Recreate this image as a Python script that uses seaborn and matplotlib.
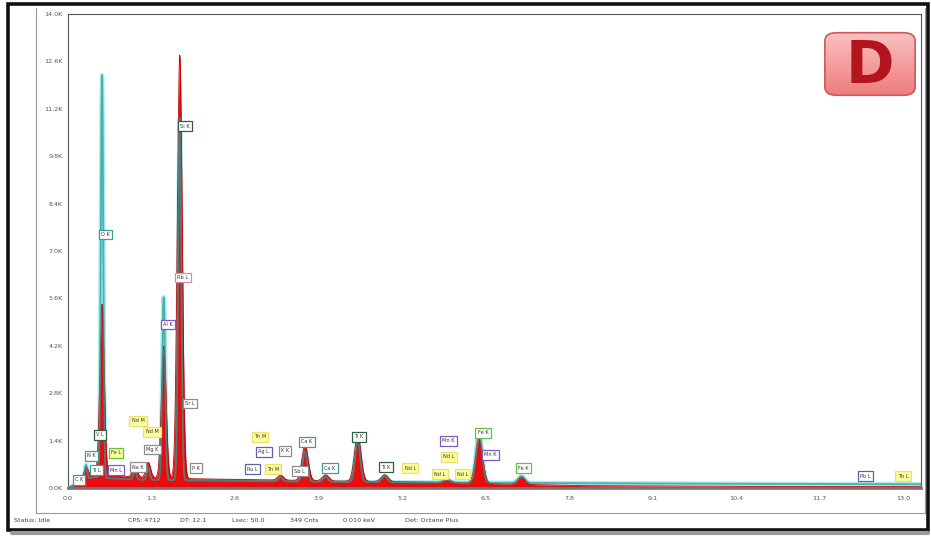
import numpy as np
import pandas as pd
import matplotlib
matplotlib.use("Agg")
import matplotlib.pyplot as plt
import seaborn as sns
from matplotlib.patches import FancyBboxPatch, Rectangle
from matplotlib.lines import Line2D
from matplotlib.ticker import FuncFormatter, FixedLocator

sns.set_theme(style="white")
plt.rcParams['font.family'] = ['DejaVu Sans']

# ---- spectrum peak table (energy keV, widths keV, counts per spectrum) ----
peak_lines = ["C K", "O K", "Na K", "Mg K", "Al K", "Si K", "K K", "Ca K", "Ca Kb",
              "Ti K", "Ti Kb", "Mn K", "Fe K", "Fe Kb"]
peak_kev = [0.28, 0.53, 1.04, 1.25, 1.49, 1.74, 3.31, 3.69, 4.01, 4.51, 4.93, 5.90, 6.40, 7.06]
red_sigma = [0.030, 0.034, 0.036, 0.036, 0.037, 0.038, 0.046, 0.048, 0.050, 0.051, 0.053,
             0.056, 0.056, 0.060]
cyan_sigma = [0.018, 0.019, 0.022, 0.022, 0.023, 0.024, 0.034, 0.036, 0.038, 0.040, 0.042,
              0.046, 0.047, 0.050]
red_counts = [300, 5000, 350, 450, 3900, 12500, 150, 1050, 180, 1350, 200, 100, 1300, 220]
cyan_counts = [420, 11900, 300, 380, 5400, 10700, 120, 900, 150, 1200, 180, 90, 1500, 200]

# continuum levels
bg_kev = [0.0, 0.1, 0.2, 0.4, 0.7, 1.0, 2.0, 3.0, 4.0, 5.0, 6.0, 7.0, 8.0, 10.0, 13.3]
red_bg = [0, 100, 250, 450, 400, 320, 270, 240, 210, 190, 160, 110, 70, 50, 40]
cyan_bg = [0, 80, 220, 320, 280, 250, 220, 200, 180, 170, 160, 150, 140, 125, 110]

# y ticks (counts) and x ticks (keV)
y_ticks = [0, 1400, 2800, 4200, 5600, 7000, 8400, 9800, 11200, 12600, 14000]
x_ticks = [0.0, 1.3, 2.6, 3.9, 5.2, 6.5, 7.8, 9.1, 10.4, 11.7, 13.0]

# line markers: text, keV, counts, edge colour
lab_text = ["O K", "V L", "Ti L", "N K", "C K", "Fe L", "Mn L", "Nd M", "Nd M", "Mg K",
            "Na K", "Al K", "Si K", "Rb L", "Sr L", "P K", "Th M", "Ag L", "K K", "Ru L",
            "Th M", "Ca K", "Sb L", "Ca K", "Ti K", "Ti K", "Nd L", "Mn K", "Nd L", "Nd L",
            "Nd L", "Fe K", "Mn K", "Fe K", "Pb L", "Th L"]
lab_kev = [0.58, 0.50, 0.44, 0.37, 0.17, 0.75, 0.75, 1.09, 1.31, 1.31,
           1.09, 1.56, 1.82, 1.79, 1.90, 1.99, 2.99, 3.05, 3.38, 2.87,
           3.19, 3.72, 3.61, 4.08, 4.53, 4.95, 5.33, 5.92, 5.93, 5.79,
           6.14, 6.46, 6.57, 7.09, 12.41, 13.0]
lab_counts = [7490, 1570, 530, 950, 240, 1035, 530, 1980, 1660, 1130,
              620, 4830, 10690, 6210, 2490, 590, 1510, 1070, 1100, 560,
              560, 1360, 500, 590, 1510, 620, 590, 1390, 920, 410,
              410, 1630, 980, 590, 350, 350]
TEAL, DKGRN, PURP, GRAY, GRN, BLUE, PINK, YEL = (
    "#3d9c9c", "#2f5f3f", "#7a5cc0", "#8c8c8c", "#66c040", "#5a64a8", "#d090a8", "#e8e070")
lab_edge = [TEAL, DKGRN, TEAL, TEAL, TEAL, GRN, PURP, YEL, YEL, GRAY,
            GRAY, PURP, DKGRN, PINK, GRAY, GRAY, YEL, BLUE, GRAY, BLUE,
            YEL, TEAL, GRAY, TEAL, DKGRN, DKGRN, YEL, PURP, YEL, YEL,
            YEL, GRN, PURP, GRN, BLUE, YEL]
lab_face = ["white" if e != YEL else "#fdfd9a" for e in lab_edge]
lab_face[5] = "#fdfd9a"

status_items = ["Status: Idle", "CPS: 4712", "DT: 12.1", "Lsec: 50.0", "349 Cnts",
                "0.010 keV", "Det: Octane Plus"]

# ---- build spectra from the peak table ----
energy = np.arange(0.0, 13.3, 0.003)


def spectrum(counts, sigmas, bg):
    s = np.interp(energy, bg_kev, bg)
    for e0, sg, h in zip(peak_kev, sigmas, counts):
        s = s + h * np.exp(-0.5 * ((energy - e0) / sg) ** 2)
    return s


df = pd.DataFrame({"keV": energy,
                   "red": spectrum(red_counts, red_sigma, red_bg),
                   "cyan": spectrum(cyan_counts, cyan_sigma, cyan_bg)})

W, H = 931, 539
fig = plt.figure(figsize=(W / 100, H / 100), dpi=100)
fig.patch.set_facecolor("white")


def fx(px):
    return px / W


def fy(py):
    return 1 - py / H


ax = fig.add_axes([fx(68), fy(488), fx(921) - fx(68), fy(14) - fy(488)])
ax.set_xlim(0, 13.28)
ax.set_ylim(0, 14000)

# light halo of the second spectrum, then the filled spectrum, then its outline
sns.lineplot(data=df, x="keV", y="cyan", ax=ax, color="#a6ecec", lw=3.2,
             estimator=None, zorder=1, solid_joinstyle="round")
ax.fill_between(df["keV"], 0, df["red"], color="#e80c0c", lw=0, zorder=2)
ax.plot(df["keV"], df["red"], color="#c40000", lw=0.6, zorder=2, solid_joinstyle="round")
sns.lineplot(data=df, x="keV", y="cyan", ax=ax, color="#2a9c9c", lw=1.3, alpha=0.75,
             estimator=None, zorder=3, solid_joinstyle="round")

for t, e, c, ec, fc in zip(lab_text, lab_kev, lab_counts, lab_edge, lab_face):
    ax.text(e, c, t, fontsize=3.6, color="#333333", ha="center", va="center", zorder=6,
            bbox=dict(boxstyle="square,pad=0.45", fc=fc, ec=ec, lw=0.9))

ax.xaxis.set_major_locator(FixedLocator(x_ticks))
ax.yaxis.set_major_locator(FixedLocator(y_ticks))
ax.xaxis.set_major_formatter(FuncFormatter(lambda v, p: f"{v:.1f}"))
ax.yaxis.set_major_formatter(FuncFormatter(lambda v, p: f"{v / 1000:.1f}K"))
ax.tick_params(axis="both", labelsize=4.6, colors="#555555", length=2, width=0.5,
               pad=2, direction="out")
ax.tick_params(axis="x", pad=4)
ax.set_xlabel("")
ax.set_ylabel("")
for side in ["left", "top", "right"]:
    ax.spines[side].set_color("#555555")
    ax.spines[side].set_linewidth(0.8)
ax.spines["bottom"].set_color("#777777")
ax.spines["bottom"].set_linewidth(2.0)
ax.set_facecolor("white")

# window frame, status bar
fig.add_artist(Line2D([fx(36), fx(36)], [fy(8), fy(513)], color="#999999", lw=0.8))
fig.add_artist(Line2D([fx(36), fx(925)], [fy(513), fy(513)], color="#999999", lw=0.8))
fig.add_artist(Line2D([fx(925), fx(925)], [fy(8), fy(513)], color="#999999", lw=0.8))
status_x = [14, 128, 180, 232, 290, 343, 405]
for sx, st in zip(status_x, status_items):
    fig.text(fx(sx), fy(521), st, fontsize=4.6, color="#444444", va="center", ha="left")

fig.add_artist(Line2D([fx(12), fx(928)], [fy(533), fy(533)], color="#9a9a9a", lw=3.0))
fig.add_artist(Rectangle((fx(8), fy(530)), fx(920), fy(4) - fy(530), transform=fig.transFigure,
                         fill=False, ec="#111111", lw=2.6))

# panel badge
bx0, by0, bx1, by1 = 822, 30, 918, 98
grad = np.linspace(0, 1, 64)[:, None]
cmap = matplotlib.colors.LinearSegmentedColormap.from_list("badge", ["#fbc4c4", "#ee7a7a"])
badge_ax = fig.add_axes([fx(bx0), fy(by1), fx(bx1) - fx(bx0), fy(by0) - fy(by1)])
badge_ax.set_axis_off()
badge = FancyBboxPatch((0.03, 0.04), 0.94, 0.92, boxstyle="round,pad=0,rounding_size=0.12",
                       transform=badge_ax.transAxes, fc="none", ec="#c85a5a", lw=1.2)
img = badge_ax.imshow(grad, cmap=cmap, aspect="auto", extent=[0, 1, 0, 1], origin="upper",
                      transform=badge_ax.transAxes)
badge_ax.add_patch(badge)
img.set_clip_path(badge)
badge_ax.set_xlim(0, 1)
badge_ax.set_ylim(0, 1)
badge_ax.text(0.5, 0.47, "D", fontsize=42, fontweight="bold", color="#b3141e",
              ha="center", va="center", transform=badge_ax.transAxes)

fig.savefig("out.png", dpi=100, facecolor="white")
